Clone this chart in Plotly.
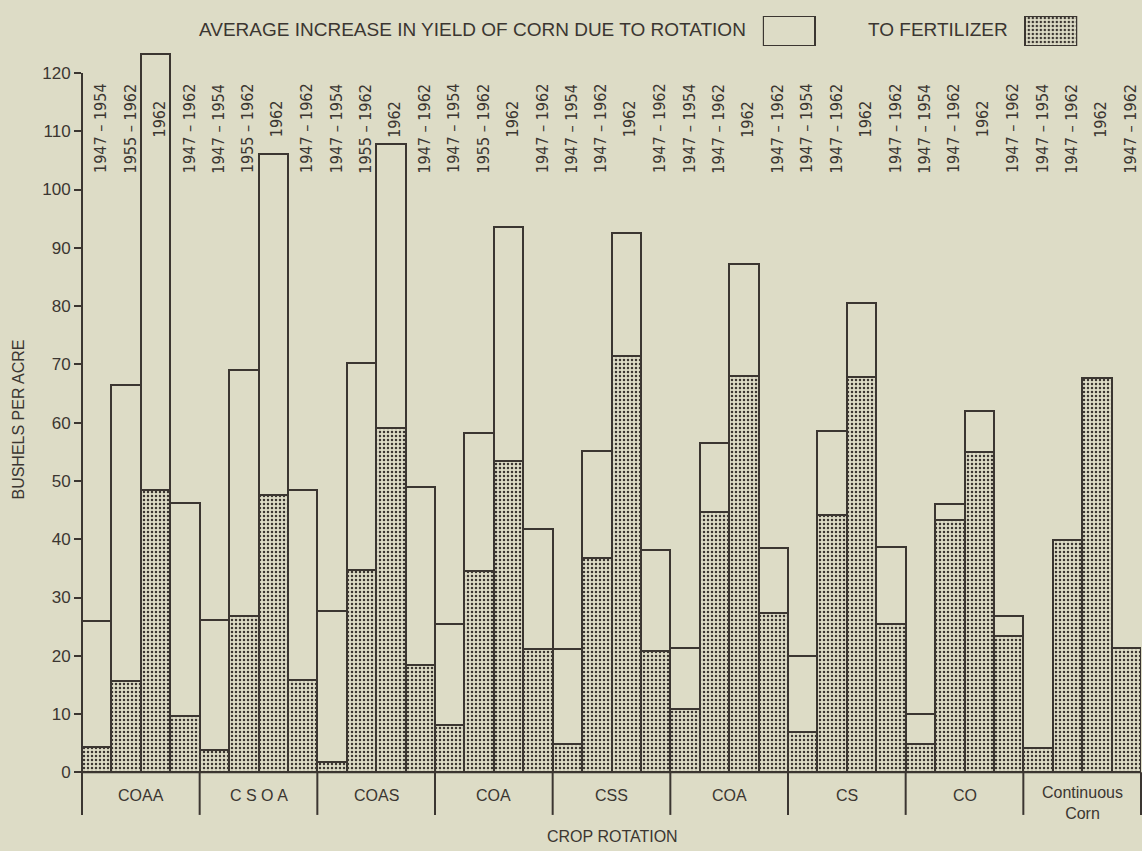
import plotly.graph_objects as go

# Crop rotations (x groups) and the period each bar in a group covers
rotations = ["COAA", "C S O A", "COAS", "COA", "CSS", "COA", "CS", "CO", "Continuous<br>Corn"]
periods_a = ["1947 – 1954", "1955 – 1962", "1962", "1947 – 1962"]
periods_b = ["1947 – 1954", "1947 – 1962", "1962", "1947 – 1962"]
periods = [periods_a] * 4 + [periods_b] * 5

# Average increase in corn yield (bushels per acre)
fertilizer_gain = [
    [4.4, 15.6, 48.5, 9.7],
    [3.8, 26.8, 47.6, 15.8],
    [1.8, 34.7, 59.0, 18.5],
    [8.1, 34.6, 53.4, 21.1],
    [4.9, 36.7, 71.4, 20.8],
    [10.8, 44.6, 68.0, 27.4],
    [6.9, 44.2, 67.9, 25.4],
    [4.8, 43.3, 55.0, 23.4],
    [4.1, 39.9, 67.7, 21.4],
]
rotation_gain = [
    [21.6, 50.9, 74.8, 36.6],
    [22.3, 42.3, 58.5, 32.7],
    [25.9, 35.6, 48.8, 30.4],
    [17.3, 23.7, 40.1, 20.6],
    [16.3, 18.5, 21.1, 17.3],
    [10.5, 11.9, 19.3, 11.1],
    [13.1, 14.3, 12.6, 13.3],
    [5.2, 2.7, 7.0, 3.5],
    [None, None, None, None],
]
y_ticks = list(range(0, 121, 10))

BG = "#dddcc6"
INK = "#3b3631"
SANS = "Liberation Sans, Arial, sans-serif"
NARROW = "Liberation Sans Narrow, Arial Narrow, DejaVu Sans Condensed, sans-serif"

n_per = len(periods_a)
n_bars = len(rotations) * n_per
xs = list(range(n_bars))
fert_flat = [v for g in fertilizer_gain for v in g]
rot_flat = [v for g in rotation_gain for v in g]
period_flat = [p for g in periods for p in g]

dots = dict(shape=".", fgcolor=INK, bgcolor=BG, size=4, solidity=0.3, fillmode="replace")
outline = dict(color=INK, width=2)

fig = go.Figure()
fig.add_trace(go.Bar(x=xs, y=fert_flat, name="TO FERTILIZER",
                     marker=dict(color=BG, pattern=dots, line=outline),
                     hoverinfo="skip", showlegend=False))
fig.add_trace(go.Bar(x=xs, y=rot_flat, name="DUE TO ROTATION",
                     marker=dict(color=BG, line=outline),
                     hoverinfo="skip", showlegend=False))

# Key swatches drawn as bars on a small overlay axis pair
fig.add_trace(go.Bar(x=[0], y=[1], width=0.2, xaxis="x2", yaxis="y2",
                     marker=dict(color=BG, line=outline), hoverinfo="skip", showlegend=False))
fig.add_trace(go.Bar(x=[1], y=[1], width=0.2, xaxis="x2", yaxis="y2",
                     marker=dict(color=BG, pattern=dots, line=outline),
                     hoverinfo="skip", showlegend=False))

x_lo, x_hi = -0.5, n_bars - 0.5
def to_paper(xv):
    return (xv - x_lo) / (x_hi - x_lo)

shapes = []
# baseline
shapes.append(dict(type="line", xref="paper", yref="y", x0=0, x1=1, y0=0, y1=0,
                   line=dict(color=INK, width=2)))
# vertical axis line, running below the baseline
shapes.append(dict(type="line", xref="paper", yref="y", x0=0, x1=0, y0=-7.3, y1=120,
                   line=dict(color=INK, width=2)))
# group separators below the baseline
for g in range(1, len(rotations) + 1):
    xb = to_paper(g * n_per - 0.5)
    shapes.append(dict(type="line", xref="paper", yref="y", x0=xb, x1=xb, y0=0, y1=-7.3,
                       line=dict(color=INK, width=2)))

annotations = []
for i, p in enumerate(period_flat):
    annotations.append(dict(x=xs[i], y=112.1 if p == "1962" else 110.5, xref="x", yref="y",
                            text=p, showarrow=False, textangle=-90, xshift=4,
                            font=dict(family=NARROW, size=16, color=INK)))
for g, name in enumerate(rotations):
    annotations.append(dict(x=g * n_per + (n_per - 1) / 2, y=-5.2 if "<br>" in name else -3.9,
                            xref="x", yref="y", text=name, showarrow=False,
                            font=dict(family=SANS, size=16, color=INK)))
annotations += [
    dict(x=0.6289, y=0.9753, xref="paper", yref="paper", xanchor="right", yanchor="middle",
         text="AVERAGE INCREASE IN YIELD OF CORN DUE TO ROTATION", showarrow=False,
         font=dict(family=SANS, size=19, color=INK)),
    dict(x=0.8763, y=0.9753, xref="paper", yref="paper", xanchor="right", yanchor="middle",
         text="TO FERTILIZER", showarrow=False, font=dict(family=SANS, size=19, color=INK)),
    dict(x=-0.0708, y=0.4932, xref="paper", yref="paper", textangle=-90,
         text="BUSHELS PER ACRE", showarrow=False, font=dict(family=SANS, size=16, color=INK)),
    dict(x=0.5014, y=-0.035, xref="paper", yref="paper",
         text="CROP ROTATION", showarrow=False, font=dict(family=SANS, size=16, color=INK)),
]

fig.update_layout(
    width=1142, height=851,
    margin=dict(l=82, r=1, t=10, b=32),
    paper_bgcolor=BG, plot_bgcolor=BG,
    barmode="stack", bargap=0,
    shapes=shapes, annotations=annotations,
    xaxis=dict(range=[x_lo, x_hi], showticklabels=False, showgrid=False, zeroline=False,
               showline=False, ticks=""),
    yaxis=dict(range=[-8, 130.8], tickvals=y_ticks, ticks="outside", ticklen=7, tickwidth=2,
               tickcolor=INK, showgrid=False, zeroline=False, showline=False,
               tickfont=dict(family=SANS, size=17, color=INK)),
    xaxis2=dict(domain=[0.6429, 0.9398], anchor="y2", range=[-0.1, 1.1], visible=False),
    yaxis2=dict(domain=[0.9555, 0.9926], anchor="x2", range=[0, 1], visible=False),
)

fig.write_html("out.html")
